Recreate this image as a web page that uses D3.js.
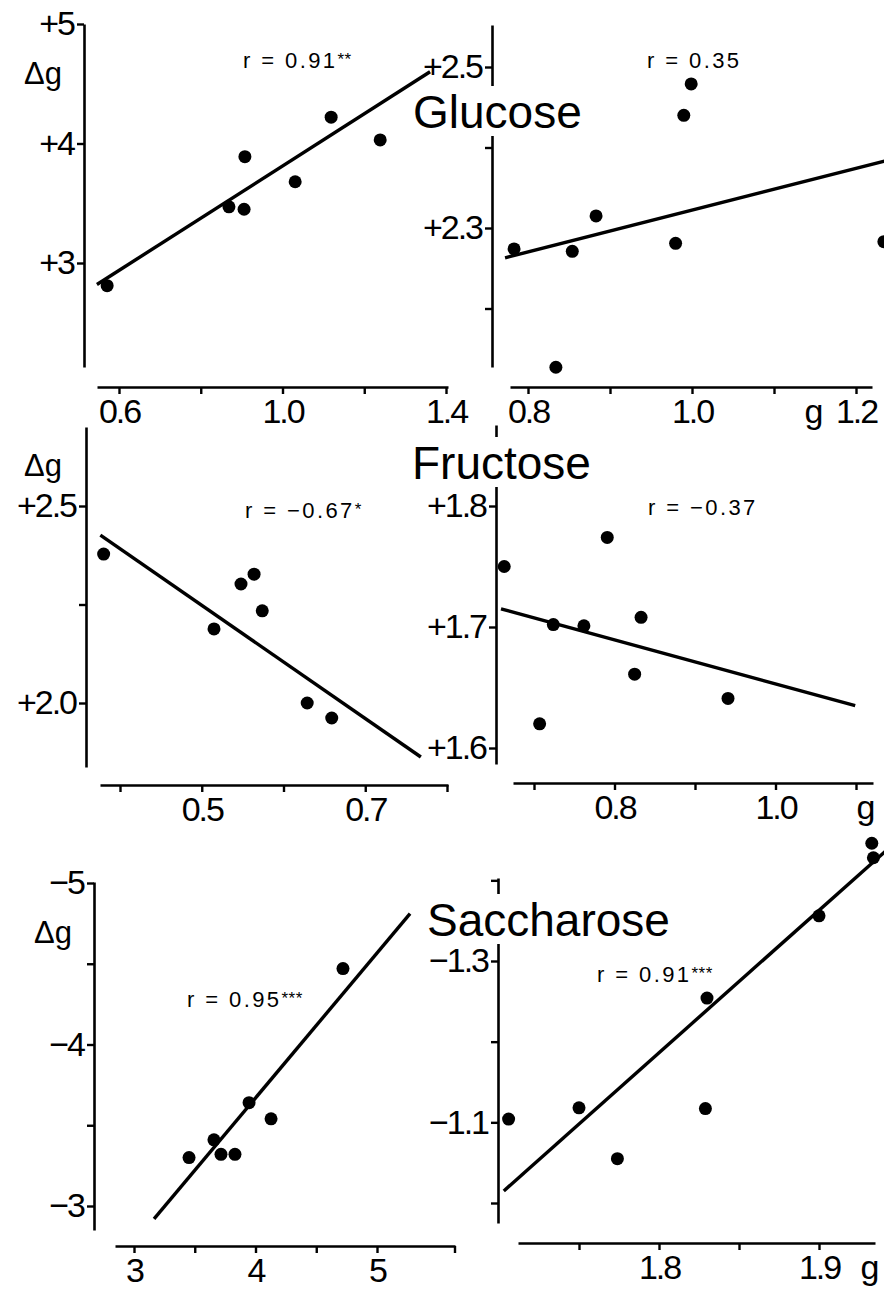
<!DOCTYPE html>
<html>
<head>
<meta charset="utf-8">
<script src="https://cdn.jsdelivr.net/npm/d3@7"></script>
<style>
  html, body { margin: 0; padding: 0; background: #fff; }
  svg { display: block; }
</style>
</head>
<body>
<script>
// Glucose, left panel
const glcLeftX = [0.571, 0.869, 0.906, 0.908, 1.031, 1.119, 1.239];
const glcLeftY = [2.81, 3.47, 3.45, 3.89, 3.68, 4.22, 4.03];
const glcLeftFitX = [0.546, 1.361];
const glcLeftFitY = [2.82, 4.60];
const glcLeftXTicks = [0.6, 0.8, 1.0, 1.2, 1.4];
const glcLeftXLabels = ["0.6", "", "1.0", "", "1.4"];
const glcLeftYTicks = [3, 4, 5];
const glcLeftYLabels = ["+3", "+4", "+5"];

// Glucose, right panel
const glcRightX = [0.783, 0.834, 0.854, 0.883, 0.980, 0.990, 0.999, 1.234];
const glcRightY = [2.274, 2.127, 2.271, 2.315, 2.281, 2.440, 2.479, 2.283];
const glcRightFitX = [0.772, 1.25];
const glcRightFitY = [2.263, 2.387];
const glcRightXTicks = [0.8, 0.9, 1.0, 1.1, 1.2];
const glcRightXLabels = ["0.8", "", "1.0", "", "1.2"];
const glcRightYTicks = [2.2, 2.3, 2.4, 2.5];
const glcRightYLabels = ["", "+2.3", "", "+2.5"];

// Fructose, left panel
const frcLeftX = [0.380, 0.515, 0.548, 0.564, 0.574, 0.629, 0.659];
const frcLeftY = [2.378, 2.188, 2.302, 2.327, 2.234, 2.0, 1.962];
const frcLeftFitX = [0.376, 0.768];
const frcLeftFitY = [2.426, 1.863];
const frcLeftXTicks = [0.4, 0.5, 0.6, 0.7, 0.8];
const frcLeftXLabels = ["", "0.5", "", "0.7", ""];
const frcLeftYTicks = [2.0, 2.25, 2.5];
const frcLeftYLabels = ["+2.0", "", "+2.5"];

// Fructose, right panel
const frcRightX = [0.663, 0.707, 0.724, 0.762, 0.791, 0.825, 0.833, 0.941];
const frcRightY = [1.750, 1.620, 1.702, 1.701, 1.774, 1.661, 1.708, 1.641];
const frcRightFitX = [0.659, 1.099];
const frcRightFitY = [1.715, 1.635];
const frcRightXTicks = [0.7, 0.8, 0.9, 1.0, 1.1];
const frcRightXLabels = ["", "0.8", "", "1.0", ""];
const frcRightYTicks = [1.6, 1.7, 1.8];
const frcRightYLabels = ["+1.6", "+1.7", "+1.8"];

// Saccharose, left panel
const sacLeftX = [3.453, 3.658, 3.716, 3.831, 3.947, 4.128, 4.720];
const sacLeftY = [-3.30, -3.41, -3.32, -3.32, -3.64, -3.54, -4.47];
const sacLeftFitX = [3.165, 5.272];
const sacLeftFitY = [-2.92, -4.81];
const sacLeftXTicks = [3, 3.5, 4, 4.5, 5];
const sacLeftXLabels = ["3", "", "4", "", "5"];
const sacLeftYTicks = [-3, -3.5, -4, -4.5, -5];
const sacLeftYLabels = ["\u22123", "", "\u22124", "", "\u22125"];

// Saccharose, right panel
const sacRightX = [1.706, 1.750, 1.774, 1.829, 1.830, 1.900, 1.933, 1.934];
const sacRightY = [-1.104, -1.118, -1.055, -1.117, -1.254, -1.356, -1.446, -1.428];
const sacRightFitX = [1.703, 1.95];
const sacRightFitY = [-1.015, -1.451];
const sacRightXTicks = [1.75, 1.8, 1.85, 1.9];
const sacRightXLabels = ["", "1.8", "", "1.9"];
const sacRightYTicks = [-1.0, -1.1, -1.2, -1.3, -1.4];
const sacRightYLabels = ["", "\u22121.1", "", "\u22121.3", ""];

const titles = ["Glucose", "Fructose", "Saccharose"];

const width = 884, height = 1293;
const font = "'Liberation Sans', Arial, sans-serif";

const svg = d3.select("body").append("svg")
    .attr("width", width)
    .attr("height", height)
    .style("background", "#fff");

// scale that hits two reference ticks and spans the drawn axis length
function calib(v0, p0, v1, p1, e0, e1) {
    const s = d3.scaleLinear().domain([v0, v1]).range([p0, p1]);
    return d3.scaleLinear().domain([s.invert(e0), s.invert(e1)]).range([e0, e1]);
}

const panels = [
    { xs: glcLeftX, ys: glcLeftY, fx: glcLeftFitX, fy: glcLeftFitY,
      xt: glcLeftXTicks, xl: glcLeftXLabels, yt: glcLeftYTicks, yl: glcLeftYLabels,
      x: calib(0.6, 119, 1.4, 446, 97, 448), y: calib(3, 263, 5, 24, 367, 24),
      axX: 84, axY: 387, r: ["r = 0.91", "**"], rPos: [243, 68], dg: [24, 84] },
    { xs: glcRightX, ys: glcRightY, fx: glcRightFitX, fy: glcRightFitY,
      xt: glcRightXTicks, xl: glcRightXLabels, yt: glcRightYTicks, yl: glcRightYLabels,
      x: calib(0.8, 528, 1.2, 856, 510, 872), y: calib(2.3, 228, 2.5, 67, 367, 25),
      axX: 492, axY: 387, r: ["r = 0.35", ""], rPos: [647, 68], unit: [1.2, -42] },
    { xs: frcLeftX, ys: frcLeftY, fx: frcLeftFitX, fy: frcLeftFitY,
      xt: frcLeftXTicks, xl: frcLeftXLabels, yt: frcLeftYTicks, yl: frcLeftYLabels,
      x: calib(0.4, 120, 0.8, 447, 100, 448), y: calib(2.0, 703, 2.5, 506, 767, 427),
      axX: 86, axY: 785, r: ["r = \u22120.67", "*"], rPos: [245, 518], dg: [24, 476] },
    { xs: frcRightX, ys: frcRightY, fx: frcRightFitX, fy: frcRightFitY,
      xt: frcRightXTicks, xl: frcRightXLabels, yt: frcRightYTicks, yl: frcRightYLabels,
      x: calib(0.7, 534, 1.1, 856, 513, 873), y: calib(1.6, 748, 1.8, 506, 764, 425),
      axX: 496, axY: 783, r: ["r = \u22120.37", ""], rPos: [648, 515], unit: [1.1, 10] },
    { xs: sacLeftX, ys: sacLeftY, fx: sacLeftFitX, fy: sacLeftFitY,
      xt: sacLeftXTicks, xl: sacLeftXLabels, yt: sacLeftYTicks, yl: sacLeftYLabels,
      x: calib(3, 134, 5, 377, 115, 455), y: calib(-3, 1206, -5, 883, 1230, 882),
      axX: 94, axY: 1246, r: ["r = 0.95", "***"], rPos: [187, 1007], dg: [34, 943], endCap: true },
    { xs: sacRightX, ys: sacRightY, fx: sacRightFitX, fy: sacRightFitY,
      xt: sacRightXTicks, xl: sacRightXLabels, yt: sacRightYTicks, yl: sacRightYLabels,
      x: calib(1.8, 659, 1.9, 819, 518, 875), y: calib(-1.0, 1203, -1.3, 961, 1223, 878),
      axX: 498, axY: 1243, r: ["r = 0.91", "***"], rPos: [597, 982], unit: [1.9, 51] }
];

const axesLayer = svg.append("g");
const titleLayer = svg.append("g");
const markLayer = svg.append("g");

panels.forEach(p => {
    // x axis
    const gx = axesLayer.append("g")
        .attr("transform", `translate(0,${p.axY})`)
        .call(d3.axisBottom(p.x).tickValues(p.xt)
            .tickFormat((d, i) => p.xl[i]).tickSize(7).tickSizeOuter(0).tickPadding(5));
    if (p.endCap) {
        gx.append("line").attr("x1", p.x.range()[1]).attr("x2", p.x.range()[1])
            .attr("y1", 0).attr("y2", 7);
    }
    // y axis
    const gy = axesLayer.append("g")
        .attr("transform", `translate(${p.axX},0)`)
        .call(d3.axisLeft(p.y).tickValues(p.yt)
            .tickFormat((d, i) => p.yl[i]).tickSize(7).tickSizeOuter(0).tickPadding(3));

    [gx, gy].forEach(g => {
        g.select(".domain").attr("stroke", "#000").attr("stroke-width", 2.6);
        g.selectAll(".tick line, line").attr("stroke", "#000").attr("stroke-width", 2.4);
        g.selectAll("text").attr("fill", "#000")
            .style("font-family", font).style("font-size", "34px")
            .style("letter-spacing", "-2px");
    });

    if (p.unit) {
        axesLayer.append("text")
            .attr("x", p.x(p.unit[0]) + p.unit[1])
            .attr("y", p.axY + 12)
            .attr("dy", "0.71em")
            .attr("text-anchor", "middle")
            .style("font-family", font).style("font-size", "34px")
            .text("g");
    }

    if (p.dg) {
        axesLayer.append("text")
            .attr("x", p.dg[0]).attr("y", p.dg[1])
            .style("font-family", font).style("font-size", "31px")
            .text("\u0394g");
    }

    // correlation label
    const rt = markLayer.append("text")
        .attr("x", p.rPos[0]).attr("y", p.rPos[1])
        .style("font-family", font)
        .style("font-size", "22px")
        .style("letter-spacing", "2.4px");
    rt.append("tspan").text(p.r[0]);
    if (p.r[1]) {
        rt.append("tspan").attr("dy", -3).style("font-size", "17px")
            .style("letter-spacing", "0.5px").text(p.r[1]);
    }

    // regression line
    markLayer.append("path")
        .datum(d3.zip(p.fx, p.fy))
        .attr("d", d3.line().x(d => p.x(d[0])).y(d => p.y(d[1])))
        .attr("fill", "none")
        .attr("stroke", "#000")
        .attr("stroke-width", 3.4);

    // points
    markLayer.selectAll(null)
        .data(d3.zip(p.xs, p.ys))
        .enter().append("circle")
        .attr("cx", d => p.x(d[0]))
        .attr("cy", d => p.y(d[1]))
        .attr("r", 6.5)
        .attr("fill", "#000");
});

// sugar names, with a white backing that breaks the axis behind them
const titlePos = [[413, 128], [412, 479], [427, 936]];
titles.forEach((t, i) => {
    const txt = titleLayer.append("text")
        .attr("x", titlePos[i][0]).attr("y", titlePos[i][1])
        .style("font-family", font)
        .style("font-size", "46px")
        .text(t);
    const bb = txt.node().getBBox();
    titleLayer.insert("rect", "text")
        .attr("x", bb.x - 2).attr("y", bb.y)
        .attr("width", bb.width + 4).attr("height", bb.height - 2)
        .attr("fill", "#fff");
});
</script>
</body>
</html>
